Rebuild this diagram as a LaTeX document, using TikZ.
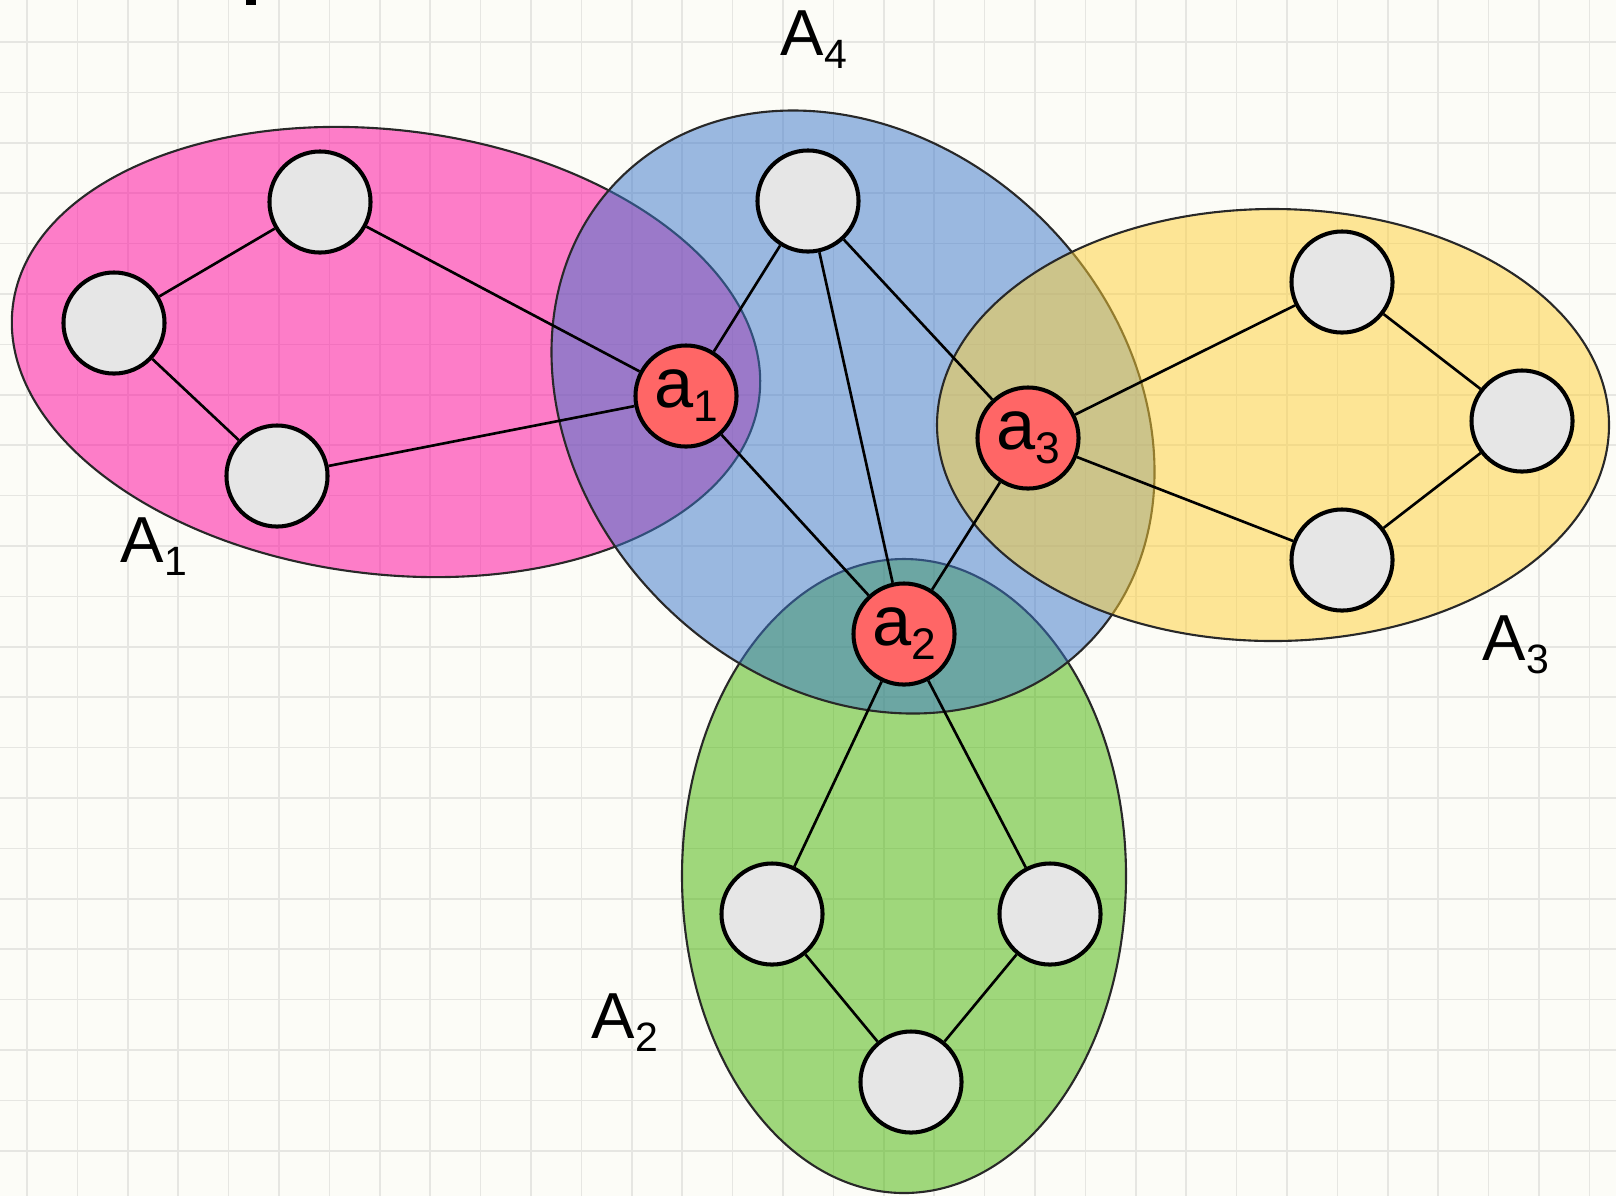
\documentclass[tikz,border=0pt]{standalone}
\usepackage{fontspec}
\setmainfont{Liberation Sans}
\pgfdeclarelayer{rejilla}
\pgfdeclarelayer{conjuntos}
\pgfdeclarelayer{aristas}
\pgfsetlayers{rejilla,conjuntos,aristas,main}
\definecolor{fondo}{RGB}{252,252,247}
\definecolor{cuadro}{RGB}{230,230,226}
\definecolor{gris}{RGB}{230,230,230}
\definecolor{rojo}{RGB}{255,102,102}
\definecolor{borde}{RGB}{40,40,40}
\definecolor{rosa}{RGB}{255,0,155}
\definecolor{azul}{RGB}{58,118,203}
\definecolor{verde}{RGB}{68,180,0}
\definecolor{amarillo}{RGB}{255,208,53}
\tikzstyle{libre}=[circle,draw=black,line width=1.15pt,fill=gris,inner sep=0pt,minimum size=1.01cm]
\tikzstyle{corte}=[libre,fill=rojo,font=\fontsize{20}{24}\selectfont]
\tikzstyle{nombre}=[anchor=base west,inner sep=0pt,font=\fontsize{18.5}{22}\selectfont]
\tikzstyle{conjunto}=[draw=borde,line width=0.6pt,fill opacity=0.5]
\tikzstyle{arista}=[draw=black,line width=0.75pt]
\tikzstyle{linea}=[draw=cuadro,line width=0.45pt]
\newcommand{\subidx}[1]{\raisebox{-0.2em}{\scalebox{0.63}{#1}}}

\begin{document}
\begin{tikzpicture}[x=0.01cm,y=-0.01cm]
		\useasboundingbox (0,0) rectangle (1616,1196);
		\begin{pgfonlayer}{rejilla}
			\fill [fondo] (0,0) rectangle (1616,1196);
			\foreach \gx in {0,...,31} \draw [linea] ({27+50.4*\gx},0) -- ({27+50.4*\gx},1196);
			\foreach \gy in {0,...,22} \draw [linea] (0,{42+50.4*\gy}) -- (1616,{42+50.4*\gy});
			\fill [black] (246,0) rectangle (256,5);
		\end{pgfonlayer}
		\node [libre] (p1) at (320,202) {};
		\node [libre] (p2) at (114,323) {};
		\node [libre] (p3) at (277,476) {};
		\node [corte] (a1) at (686,396) {a\subidx{1}};
		\node [libre] (t) at (808,201) {};
		\node [corte] (a2) at (904,634) {a\subidx{2}};
		\node [corte] (a3) at (1028,438) {a\subidx{3}};
		\node [libre] (y1) at (1342,282) {};
		\node [libre] (y2) at (1522,421) {};
		\node [libre] (y3) at (1342,560) {};
		\node [libre] (g1) at (772,914) {};
		\node [libre] (g2) at (1050,914) {};
		\node [libre] (g3) at (911,1082) {};
		\node [nombre] (n1) at (120,562) {A\subidx{1}};
		\node [nombre] (n2) at (591,1038) {A\subidx{2}};
		\node [nombre] (n3) at (1482,660) {A\subidx{3}};
		\node [nombre] (n4) at (780,55) {A\subidx{4}};
		\begin{pgfonlayer}{conjuntos}
			\draw [conjunto,fill=rosa,rotate around={-7:(386,352)}] (386,352) ellipse [x radius=376,y radius=222];
			\draw [conjunto,fill=verde] (904,876) ellipse [x radius=222,y radius=317];
			\draw [conjunto,fill=azul,rotate around={-45:(853,412)}] (853,412) ellipse [x radius=330,y radius=270];
			\draw [conjunto,fill=amarillo] (1273,425) ellipse [x radius=336,y radius=216];
		\end{pgfonlayer}
		\begin{pgfonlayer}{aristas}
			\draw [arista] (p1)--(p2);
			\draw [arista] (p2)--(p3);
			\draw [arista] (p1)--(a1);
			\draw [arista] (p3)--(a1);
			\draw [arista] (t)--(a1);
			\draw [arista] (t)--(a2);
			\draw [arista] (t)--(a3);
			\draw [arista] (a1)--(a2);
			\draw [arista] (a3)--(a2);
			\draw [arista] (a3)--(y1);
			\draw [arista] (a3)--(y3);
			\draw [arista] (y1)--(y2);
			\draw [arista] (y2)--(y3);
			\draw [arista] (a2)--(g1);
			\draw [arista] (a2)--(g2);
			\draw [arista] (g1)--(g3);
			\draw [arista] (g2)--(g3);
		\end{pgfonlayer}
\end{tikzpicture}
\end{document}
